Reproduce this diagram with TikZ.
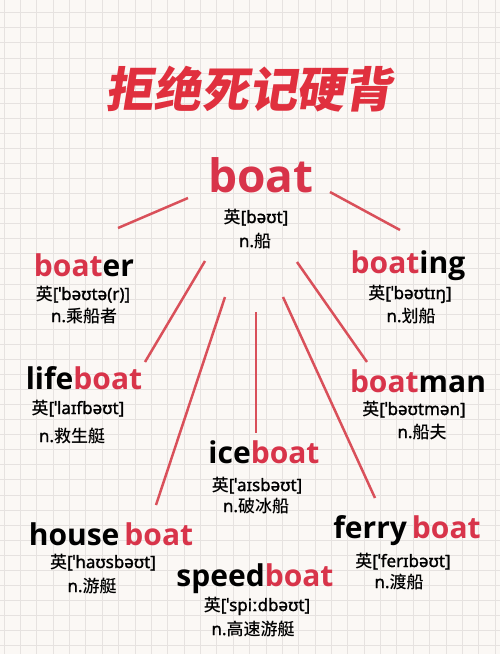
\documentclass[tikz,border=0pt]{standalone}
\usepackage{fontspec}
\setmainfont{Noto Sans}
\newfontfamily\wordfont{Open Sans}
\newfontfamily\phonfont{Noto Sans}[FakeBold=1.3]
\newfontfamily\cjk{Noto Sans CJK SC}[UprightFont=* Medium]
\newfontfamily\titlefont{Noto Sans CJK SC}[UprightFont=* Black,FakeSlant=0.16]
\definecolor{paper}{HTML}{FBF8F5}
\definecolor{gridgray}{HTML}{E6E2E0}
\definecolor{boatred}{HTML}{D8344A}
\definecolor{titlered}{HTML}{E0303E}
\definecolor{linkred}{HTML}{D9505A}
\newcommand{\rt}[1]{\textcolor{boatred}{#1}}

\begin{document}
\begin{tikzpicture}[x=1pt,y=-1pt,
  word/.style={anchor=base,inner sep=0pt,font=\wordfont\bfseries\fontsize{30}{30}\selectfont},
  phon/.style={anchor=base,inner sep=0pt,font=\phonfont\fontsize{17}{17}\selectfont},
  link/.style={draw=linkred,line width=2.5pt}]
\useasboundingbox (0,0) rectangle (500,654);
%бумага в клетку
\fill[paper] (0,0) rectangle (500,654);
\foreach \i in {0,...,30} \draw[gridgray,line width=0.8pt] ({4+16.37*\i},0)--({4+16.37*\i},654);
\foreach \j in {0,...,43} \draw[gridgray,line width=0.8pt] (0,{12.7+15.07*\j})--(500,{12.7+15.07*\j});

%заголовок
\node[inner sep=0pt,text=titlered,font=\titlefont\fontsize{48}{48}\selectfont] (title) at (249,89) {拒绝死记硬背};

%корень
\node[anchor=base,inner sep=0pt,text=boatred,font=\wordfont\bfseries\fontsize{46}{46}\selectfont] (boat) at (261,192) {boat};
\node[phon] (boat-ph) at (256,223) {{\cjk 英}[bəʊt]};
\node[phon] (boat-zh) at (255,247) {n.{\cjk 船}};

%производные слова
\node[word] (boater) at (84,276) {\rt{boat}er};
\node[phon] (boater-ph) at (83,300) {{\cjk 英}[ˈbəʊtə(r)]};
\node[phon] (boater-zh) at (84,322) {n.{\cjk 乘船者}};

\node[word] (boating) at (408,273) {\rt{boat}ing};
\node[phon] (boating-ph) at (410,299) {{\cjk 英}[ˈbəʊtɪŋ]};
\node[phon] (boating-zh) at (411,322) {n.{\cjk 划船}};

\node[word] (lifeboat) at (84,389) {life\rt{boat}};
\node[phon] (lifeboat-ph) at (78,414) {{\cjk 英}[ˈlaɪfbəʊt]};
\node[phon] (lifeboat-zh) at (72,442) {n.{\cjk 救生艇}};

\node[word] (boatman) at (418,392) {\rt{boat}man};
\node[phon] (boatman-ph) at (414,415) {{\cjk 英}[ˈbəʊtmən]};
\node[phon] (boatman-zh) at (422,438) {n.{\cjk 船夫}};

\node[word] (iceboat) at (264,463) {ice\rt{boat}};
\node[phon] (iceboat-ph) at (257,491) {{\cjk 英}[ˈaɪsbəʊt]};
\node[phon] (iceboat-zh) at (256,512) {n.{\cjk 破冰船}};

\node[word] (houseboat) at (111,545) {house\,\rt{boat}};
\node[phon] (houseboat-ph) at (103,568) {{\cjk 英}[ˈhaʊsbəʊt]};
\node[phon] (houseboat-zh) at (92,592) {n.{\cjk 游艇}};

\node[word] (ferryboat) at (407,538) {ferry\,\rt{boat}};
\node[phon] (ferryboat-ph) at (403,567) {{\cjk 英}[ˈferɪbəʊt]};
\node[phon] (ferryboat-zh) at (399,588) {n.{\cjk 渡船}};

\node[word] (speedboat) at (255,586) {speed\rt{boat}};
\node[phon] (speedboat-ph) at (257,611) {{\cjk 英}[ˈspiːdbəʊt]};
\node[phon] (speedboat-zh) at (253,635) {n.{\cjk 高速游艇}};

%концы линий
\coordinate (boater-a) at (188,198);   \coordinate (boater-b) at (118,228);
\coordinate (boating-a) at (330,192);  \coordinate (boating-b) at (400,230);
\coordinate (lifeboat-a) at (205,261); \coordinate (lifeboat-b) at (145,362);
\coordinate (house-a) at (225,297);    \coordinate (house-b) at (156,505);
\coordinate (ice-a) at (256,312);      \coordinate (ice-b) at (256,433);
\coordinate (boatman-a) at (297,262);  \coordinate (boatman-b) at (367,362);
\coordinate (ferry-a) at (283,297);    \coordinate (ferry-b) at (375,498);

%линии
\foreach \s in {boater,boating,lifeboat,house,ice,boatman,ferry}
  \draw[link] (\s-a)--(\s-b);

\end{tikzpicture}
\end{document}
